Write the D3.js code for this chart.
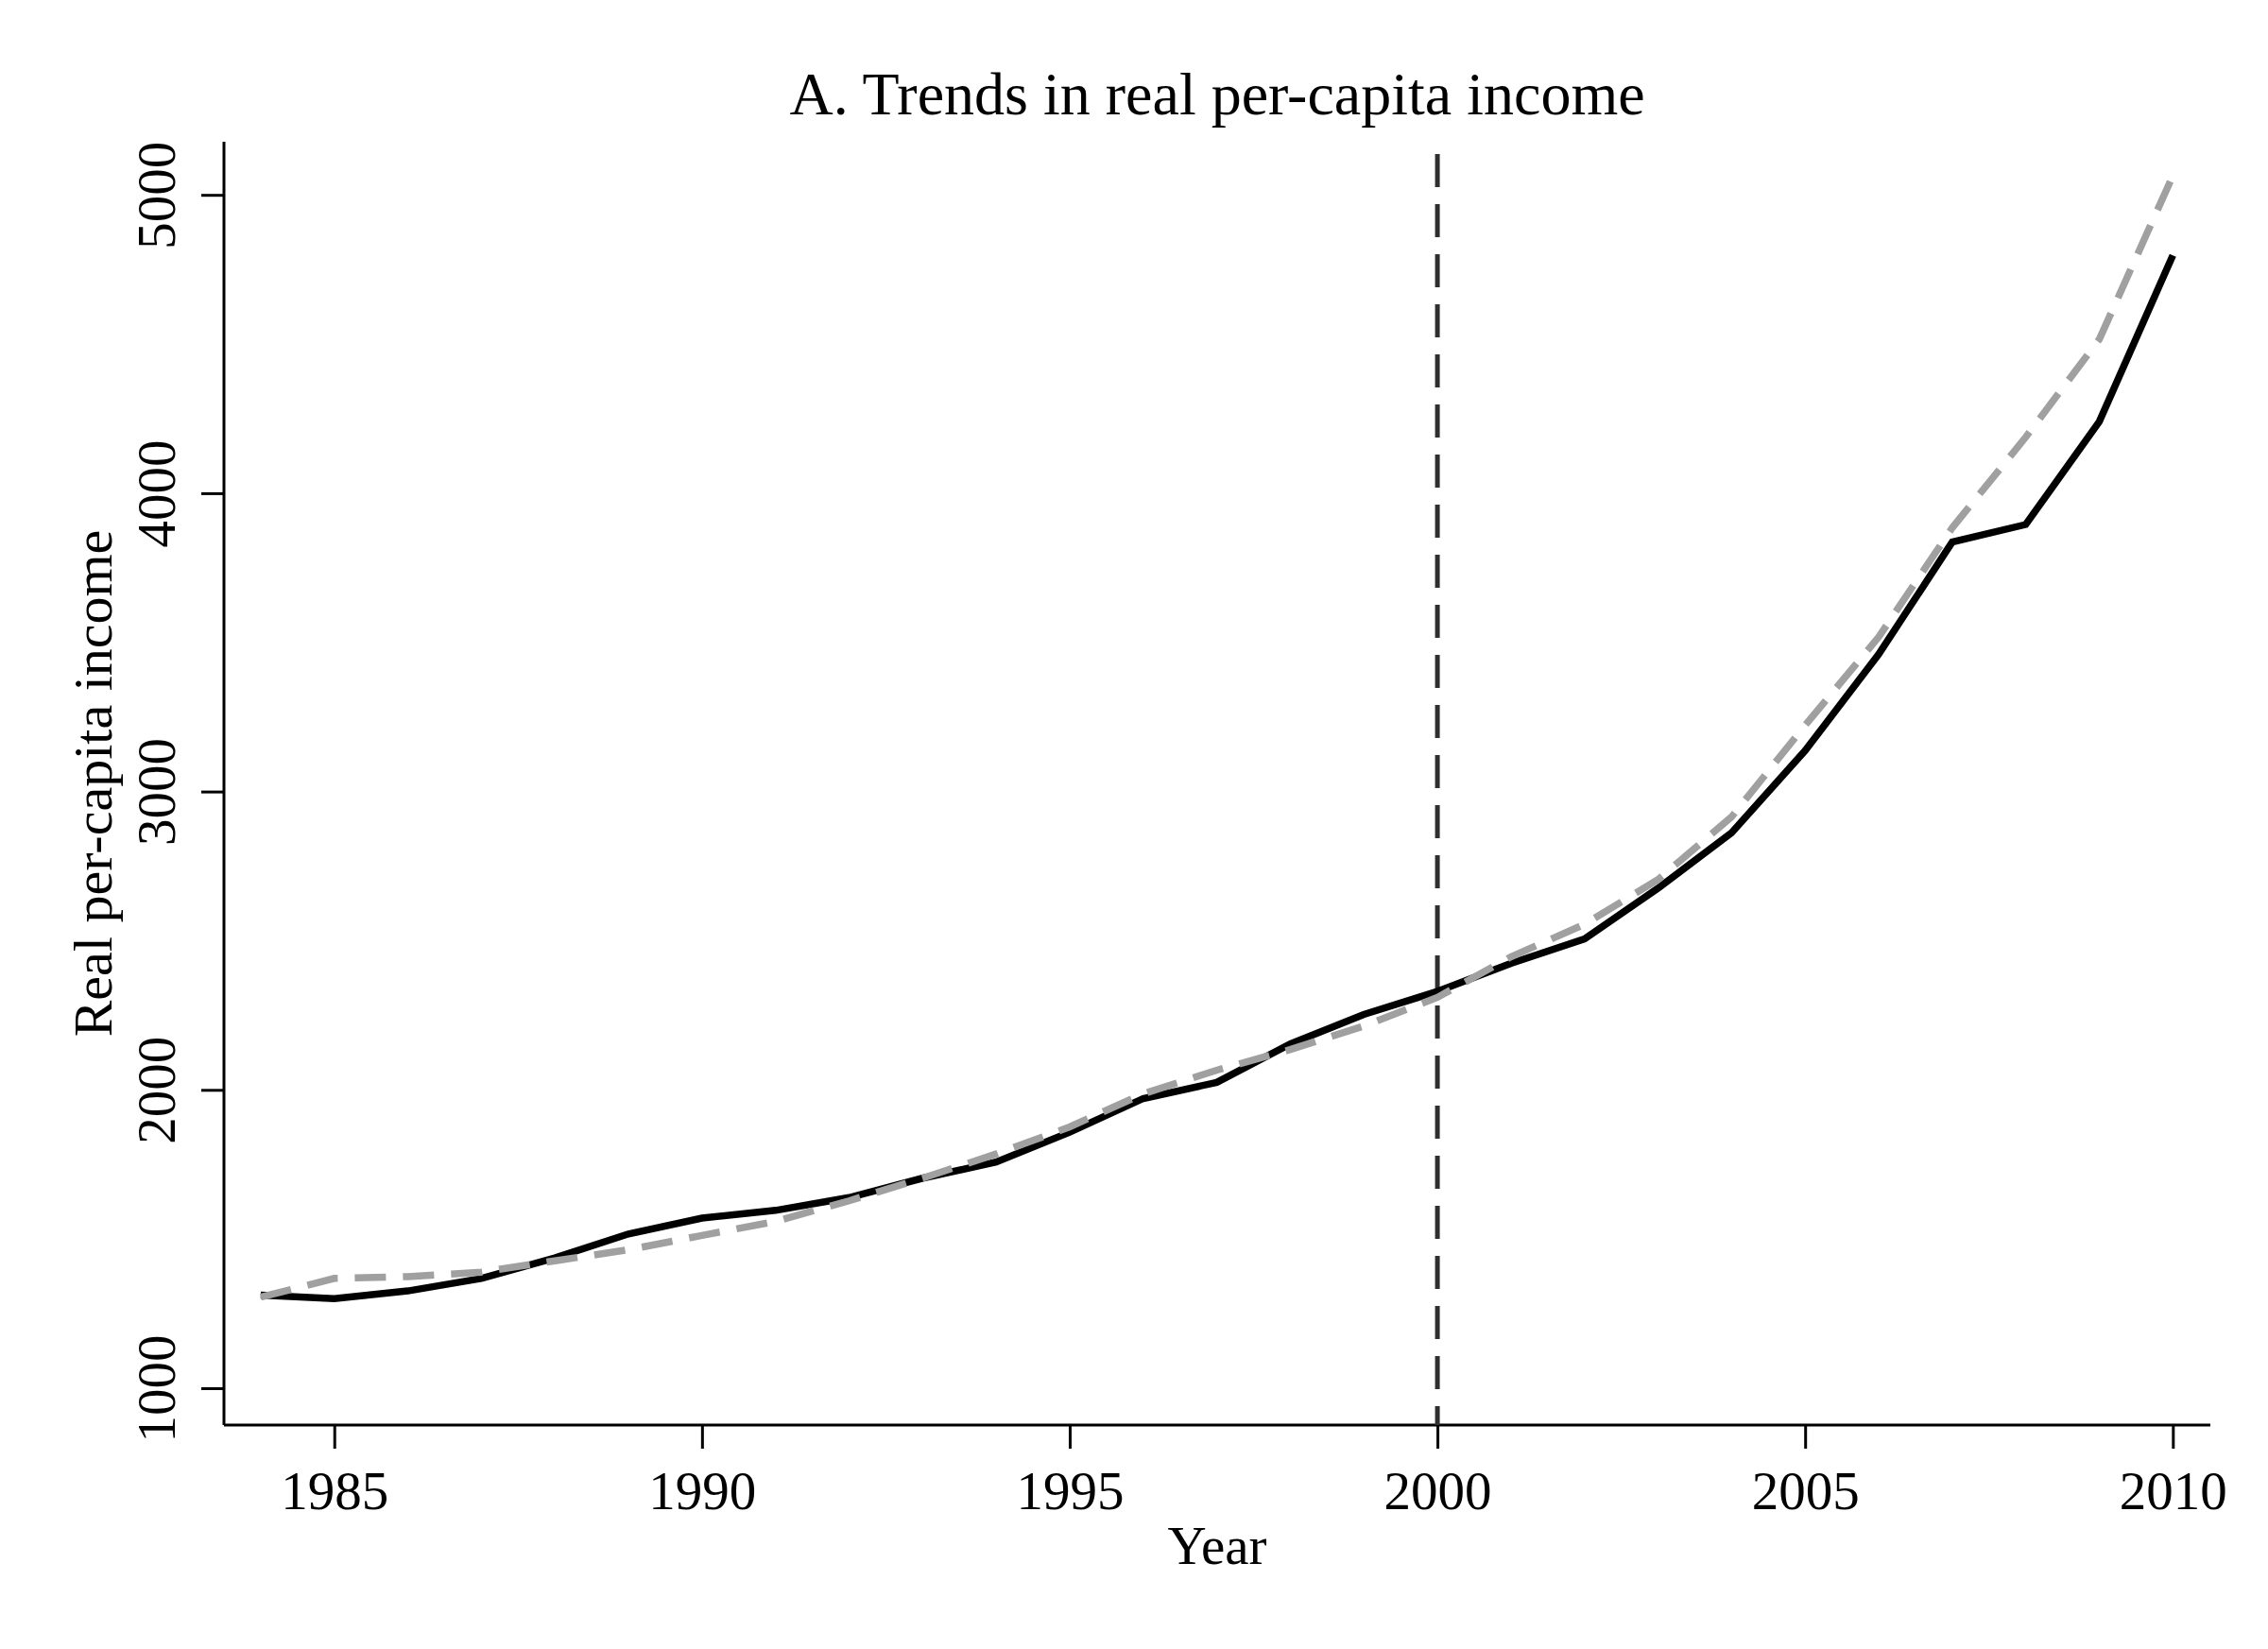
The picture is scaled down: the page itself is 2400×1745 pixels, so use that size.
<!DOCTYPE html>
<html>
<head>
<meta charset="utf-8">
<script src="https://cdn.jsdelivr.net/npm/d3@7"></script>
<style>
  html, body { margin: 0; padding: 0; background: #fff; }
  text { font-family: "Liberation Serif", "DejaVu Serif", serif; fill: #000; }
</style>
</head>
<body>
<script>
// years covered by both series
const years = d3.range(1984, 2011);

// actual real per-capita income (solid black)
const actual = [1312, 1300, 1326, 1368, 1437, 1517, 1570, 1596, 1639, 1704,
                1758, 1858, 1971, 2025, 2154, 2253, 2330, 2424, 2506, 2676,
                2862, 3137, 3460, 3836, 3895, 4240, 4797];

// counterfactual trend (dashed grey)
const trend = [1305, 1368, 1374, 1389, 1427, 1464, 1512, 1559, 1628, 1704,
               1785, 1876, 1987, 2066, 2135, 2214, 2310, 2446, 2555, 2705,
               2915, 3222, 3518, 3884, 4188, 4516, 5064];

const xTicks = [1985, 1990, 1995, 2000, 2005, 2010];
const yTicks = [1000, 2000, 3000, 4000, 5000];
const breakYear = 2000;

const W = 2400, H = 1745;
const plot = { left: 237, right: 2339, top: 150, bottom: 1508 };

const svg = d3.select('body').append('svg')
  .attr('width', W)
  .attr('height', H);

const x = d3.scaleLinear().domain([1983.5, 2010.51]).range([plot.left, plot.right]);
const y = d3.scaleLinear().domain([876.5, 5178]).range([plot.bottom, plot.top]);

// y axis
const yAxis = svg.append('g')
  .attr('transform', `translate(${plot.left},0)`)
  .call(d3.axisLeft(y).tickValues(yTicks).tickSize(24).tickFormat(d3.format('d')));
yAxis.select('.domain').attr('d', `M0,${plot.top}V${plot.bottom}`).attr('stroke-width', 3);
yAxis.selectAll('.tick line').attr('stroke-width', 3);
yAxis.selectAll('.tick text')
  .attr('x', 0).attr('dy', null)
  .attr('transform', 'translate(-52,0) rotate(-90)')
  .attr('text-anchor', 'middle')
  .style('font-size', '57px');

// x axis
const xAxis = svg.append('g')
  .attr('transform', `translate(0,${plot.bottom})`)
  .call(d3.axisBottom(x).tickValues(xTicks).tickSize(25).tickFormat(d3.format('d')));
xAxis.select('.domain').attr('d', `M${plot.left},0H${plot.right}`).attr('stroke-width', 3);
xAxis.selectAll('.tick line').attr('stroke-width', 3);
xAxis.selectAll('.tick text')
  .attr('y', 89).attr('dy', null)
  .style('font-size', '57px');

// vertical break line
svg.append('line')
  .attr('x1', x(breakYear)).attr('x2', x(breakYear))
  .attr('y1', plot.top + 13).attr('y2', plot.bottom)
  .attr('stroke', '#2f2f2f')
  .attr('stroke-width', 5)
  .attr('stroke-dasharray', '35,18');

const line = d3.line().x((d, i) => x(years[i])).y(d => y(d));

svg.append('path')
  .datum(actual)
  .attr('d', line)
  .attr('fill', 'none')
  .attr('stroke', '#000')
  .attr('stroke-width', 7.5);

svg.append('path')
  .datum(trend)
  .attr('d', line)
  .attr('fill', 'none')
  .attr('stroke', '#a0a0a0')
  .attr('stroke-width', 7.5)
  .attr('stroke-dasharray', '33,18');

// titles
svg.append('text')
  .attr('x', (plot.left + plot.right) / 2)
  .attr('y', 121)
  .attr('text-anchor', 'middle')
  .style('font-size', '64px')
  .text('A. Trends in real per-capita income');

svg.append('text')
  .attr('x', (plot.left + plot.right) / 2)
  .attr('y', 1655)
  .attr('text-anchor', 'middle')
  .style('font-size', '57px')
  .text('Year');

svg.append('text')
  .attr('transform', `translate(118,${(plot.top + plot.bottom) / 2}) rotate(-90)`)
  .attr('text-anchor', 'middle')
  .style('font-size', '58px')
  .text('Real per-capita income');
</script>
</body>
</html>
